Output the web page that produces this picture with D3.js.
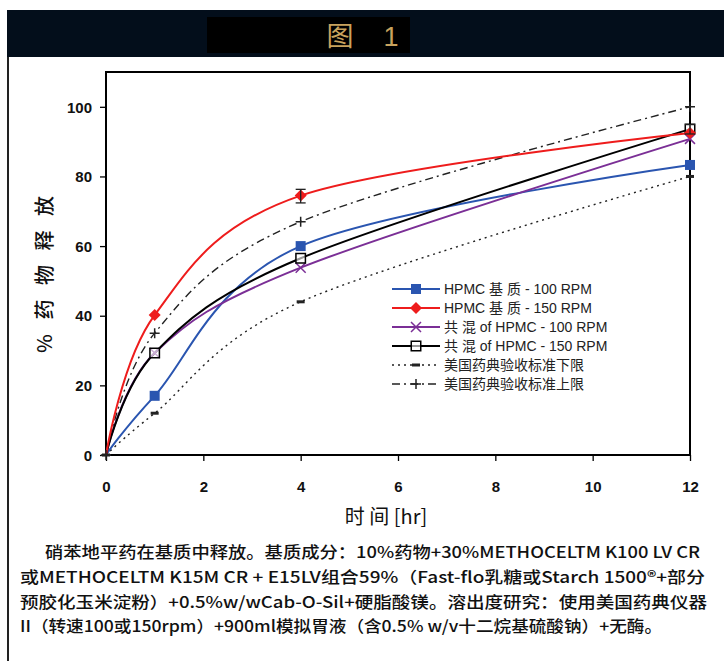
<!DOCTYPE html>
<html>
<head>
<meta charset="utf-8">
<script src="https://cdn.jsdelivr.net/npm/d3@7"></script>
<style>
  body { margin: 0; background: #fff; }
  svg { display: block; }
</style>
</head>
<body>
<div id="chart"></div>
<script>
// sample times (hr)
const times = [0, 1, 4, 12];

// % drug released
const hpmc100 = [0, 17, 60, 83.3];
const hpmc150 = [0, 40.2, 74.5, 92.5];
const blend100 = [0, 29.3, 53.8, 90.8];
const blend150 = [0, 29.3, 56.5, 93.6];
const uspLower = [0, 12, 44, 80];
const uspUpper = [0, 35, 67, 100];

// error bars (time, low, high)
const errHpmc150 = [[4, 72.4, 76.3]];
const errBlend150 = [[12, 92.2, 94.9]];

const xTicks = [0, 2, 4, 6, 8, 10, 12];
const yTicks = [0, 20, 40, 60, 80, 100];

const legendLabels = [
  "HPMC  基 质  - 100 RPM",
  "HPMC  基 质  - 150 RPM",
  "共 混 of HPMC - 100 RPM",
  "共 混 of HPMC - 150 RPM",
  "美国药典验收标准下限",
  "美国药典验收标准上限"
];

const captionLines = [
  "硝苯地平药在基质中释放。基质成分：10%药物+30%METHOCELTM K100 LV CR",
  "或METHOCELTM K15M CR + E15LV组合59%（Fast-flo乳糖或Starch 1500®+部分",
  "预胶化玉米淀粉）+0.5%w/wCab-O-Sil+硬脂酸镁。溶出度研究：使用美国药典仪器",
  "II（转速100或150rpm）+900ml模拟胃液（含0.5% w/v十二烷基硫酸钠）+无酶。"
];

const W = 724, H = 661;
const svg = d3.select("#chart").append("svg").attr("width", W).attr("height", H);

// header band
svg.append("rect").attr("x", 7).attr("y", 10).attr("width", W - 7).attr("height", 47).attr("fill", "#030e1b");
svg.append("rect").attr("x", 207).attr("y", 17).attr("width", 203).attr("height", 36).attr("fill", "#000");
svg.append("text").attr("x", 340).attr("y", 46).attr("text-anchor", "middle")
  .attr("font-family", "Noto Sans CJK SC").attr("font-size", 27).attr("fill", "#c9a35e").text("图");
svg.append("text").attr("x", 391).attr("y", 46).attr("text-anchor", "middle")
  .attr("font-family", "Liberation Sans").attr("font-size", 27).attr("fill", "#c9a35e").text("1");

// left border of the panel
svg.append("line").attr("x1", 8).attr("x2", 8).attr("y1", 57).attr("y2", H)
  .attr("stroke", "#222").attr("stroke-width", 2);

const x = d3.scaleLinear().domain([0, 12]).range([106, 690]);
const y = d3.scaleLinear().domain([0, 110]).range([455, 72]);

// plot frame
const frame = svg.append("g").attr("fill", "none").attr("stroke", "#000").attr("stroke-width", 2);
frame.append("path").attr("d", `M${x(0)},${y(0)}V${y(110)}H${x(12)}V${y(0)}`);
frame.append("line").attr("x1", x(0) + 4).attr("x2", x(12)).attr("y1", y(0)).attr("y2", y(0));

// axes
const xAxis = svg.append("g").attr("transform", `translate(0,${y(0)})`)
  .call(d3.axisBottom(x).tickValues(xTicks).tickSize(6).tickPadding(20).tickFormat(d3.format("d")));
const yAxis = svg.append("g").attr("transform", `translate(${x(0)},0)`)
  .call(d3.axisLeft(y).tickValues(yTicks).tickSize(6).tickPadding(8).tickFormat(d3.format("d")));
[xAxis, yAxis].forEach(a => {
  a.select(".domain").remove();
  a.selectAll(".tick line").attr("stroke", "#000").attr("stroke-width", 1.3);
  a.selectAll(".tick text").attr("font-family", "Liberation Sans").attr("font-weight", "bold")
    .attr("font-size", 15).attr("fill", "#111");
});
yAxis.selectAll(".tick text").attr("dy", "0.35em");

// axis titles
svg.append("text").attr("x", 386).attr("y", 524).attr("text-anchor", "middle")
  .attr("font-family", "Noto Sans CJK SC").attr("font-size", 20).attr("fill", "#111").text("时 间 [hr]");
svg.append("text").attr("transform", "translate(52,272) rotate(-90)").attr("text-anchor", "middle")
  .attr("font-family", "Noto Sans CJK SC").attr("font-weight", 500).attr("font-size", 20)
  .attr("letter-spacing", 5).attr("fill", "#111").text("% 药 物 释 放");

const line = d3.line().x(d => x(d[0])).y(d => y(d[1])).curve(d3.curveCatmullRom.alpha(0));

const series = [
  { vals: uspLower, color: "#222", width: 1.4, dash: "2,4", marker: "dash" },
  { vals: uspUpper, color: "#222", width: 1.4, dash: "8,4,2,4", marker: "plus" },
  { vals: hpmc100, color: "#2a55b0", width: 2, dash: null, marker: "square" },
  { vals: blend100, color: "#7b2f96", width: 2, dash: null, marker: "cross" },
  { vals: blend150, color: "#000", width: 2, dash: null, marker: "open" },
  { vals: hpmc150, color: "#ee1c1c", width: 2, dash: null, marker: "diamond" }
];

const markerPath = {
  square: d3.symbol(d3.symbolSquare, 100)(),
  open: d3.symbol(d3.symbolSquare, 90)(),
  diamond: "M0,-6L6,0L0,6L-6,0Z",
  cross: "M-5,-5L5,5M-5,5L5,-5",
  plus: "M-5,0H5M0,-5V5",
  dash: "M-4,0H4"
};

function drawMarker(g, kind, color, cx, cy) {
  const p = g.append("path").attr("d", markerPath[kind]).attr("transform", `translate(${cx},${cy})`);
  if (kind === "square" || kind === "diamond") p.attr("fill", color).attr("stroke", "none");
  else if (kind === "open") p.attr("fill", "#fff").attr("fill-opacity", 0.6).attr("stroke", color).attr("stroke-width", 1.5);
  else if (kind === "dash") p.attr("fill", "none").attr("stroke", color).attr("stroke-width", 3);
  else p.attr("fill", "none").attr("stroke", color).attr("stroke-width", 1.5);
}

const plot = svg.append("g");
series.forEach(s => {
  const pts = times.map((t, i) => [t, s.vals[i]]);
  plot.append("path").datum(pts).attr("d", line).attr("fill", "none")
    .attr("stroke", s.color).attr("stroke-width", s.width).attr("stroke-dasharray", s.dash);
});
series.forEach(s => {
  times.forEach((t, i) => {
    if (i === 0 && s.marker !== "plus" && s.marker !== "dash") return;
    drawMarker(plot, s.marker, s.color, x(t), y(s.vals[i]));
  });
});

// error bars
function drawErr(list) {
  list.forEach(([t, lo, hi]) => {
    const g = plot.append("g").attr("stroke", "#222").attr("stroke-width", 1.3);
    g.append("line").attr("x1", x(t)).attr("x2", x(t)).attr("y1", y(lo)).attr("y2", y(hi));
    g.append("line").attr("x1", x(t) - 5).attr("x2", x(t) + 5).attr("y1", y(lo)).attr("y2", y(lo));
    g.append("line").attr("x1", x(t) - 5).attr("x2", x(t) + 5).attr("y1", y(hi)).attr("y2", y(hi));
  });
}
drawErr(errHpmc150);
drawErr(errBlend150);

// legend
const legendStyle = [series[2], series[5], series[3], series[4], series[0], series[1]];
const lg = svg.append("g").attr("transform", "translate(392,289)");
legendStyle.forEach((s, i) => {
  const row = lg.append("g").attr("transform", `translate(0,${i * 19})`);
  row.append("line").attr("x1", 0).attr("x2", 48).attr("y1", 0).attr("y2", 0)
    .attr("stroke", s.color).attr("stroke-width", s.width).attr("stroke-dasharray", s.dash);
  drawMarker(row, s.marker, s.color, 24, 0);
  row.append("text").attr("x", 52).attr("y", 0).attr("dy", "0.36em")
    .attr("font-family", "Liberation Sans, Noto Sans CJK SC").attr("font-size", 14)
    .attr("fill", "#222").text(legendLabels[i]);
});

// caption
const capX = [45, 20, 20, 20];
const capEnd = [700, 705, 707, 662];
captionLines.forEach((t, i) => {
  svg.append("text").attr("x", capX[i]).attr("y", 558 + i * 24.8)
    .attr("font-family", "Noto Sans CJK SC").attr("font-weight", 500).attr("font-size", 16)
    .attr("fill", "#111").attr("textLength", capEnd[i] - capX[i]).attr("lengthAdjust", "spacingAndGlyphs")
    .text(t);
});
</script>
</body>
</html>
